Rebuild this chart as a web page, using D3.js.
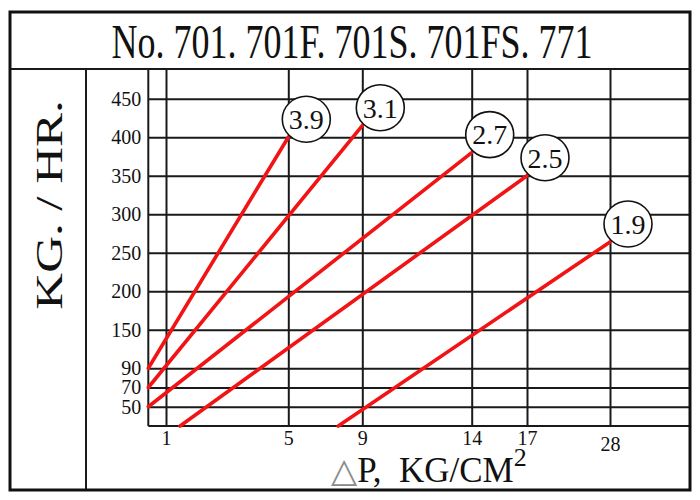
<!DOCTYPE html>
<html><head><meta charset="utf-8">
<script src="https://cdn.jsdelivr.net/npm/d3@7"></script>
<style>body{margin:0;background:#fff}svg{display:block}</style>
</head><body>
<svg id="c" width="700" height="500"></svg>
<script>
// ---- data ----
const title = "No. 701. 701F. 701S. 701FS. 771";
const yLabel = "KG. / HR.";
const yTicks = [50, 70, 90, 150, 200, 250, 300, 350, 400, 450];
const xTicks = [1, 5, 9, 14, 17, 28];
const seriesNames = ["3.9", "3.1", "2.7", "2.5", "1.9"];
const startX = [0, 0, 0, 1.46, 7.7];
const startY = [90, 70, 50, 30, 30];
const endX = [5, 9, 14, 17, 28];
const endY = [400, 415, 380, 350, 264];

// ---- layout ----
const svg = d3.select("#c");
const font = "'Liberation Serif','Times New Roman',serif";
const box = {x0: 10, y0: 12, x1: 690, y1: 490};
const titleLineY = 69, labelColX = 86;
const plot = {left: 148.3, right: 690, top: 69, bottom: 426};
const ink = "#1a1a1a";

// non-uniform (piecewise) scales as on the original chart
const yDomain = [30, 50, 70, 90, 150, 200, 250, 300, 350, 400, 450, 500];
const ySlots = [0, 1, 2, 3, 5, 7, 9, 11, 13, 15, 17, 19];
const y = d3.scaleLinear().domain(yDomain).range(ySlots.map(s => plot.bottom - s * 19.25));
const x = d3.scaleLinear().domain([0, 1, 5, 9, 14, 17, 28])
  .range([plot.left, 166, 288.3, 362.3, 471.7, 527, 610]);

// grid (horizontal)
const gy = svg.append("g").attr("transform", `translate(${plot.left},0)`)
  .call(d3.axisRight(y).tickValues(yTicks).tickSize(plot.right - plot.left).tickFormat(""));
gy.select(".domain").remove();
gy.selectAll("line").attr("stroke", ink).attr("stroke-width", 2);

// grid (vertical)
const gx = svg.append("g").attr("transform", `translate(0,${plot.bottom})`)
  .call(d3.axisTop(x).tickValues(xTicks).tickSize(plot.bottom - plot.top).tickFormat(""));
gx.select(".domain").remove();
gx.selectAll("line").attr("stroke", ink).attr("stroke-width", 2);

// plot frame: left edge and bottom axis line
svg.append("line").attr("x1", plot.left).attr("x2", plot.left).attr("y1", plot.top).attr("y2", plot.bottom)
  .attr("stroke", ink).attr("stroke-width", 2);
svg.append("line").attr("x1", plot.left).attr("x2", plot.right).attr("y1", plot.bottom).attr("y2", plot.bottom)
  .attr("stroke", ink).attr("stroke-width", 2);

// y tick labels
const ay = svg.append("g").attr("transform", `translate(${plot.left},0)`)
  .call(d3.axisLeft(y).tickValues(yTicks).tickSize(0).tickPadding(7));
ay.select(".domain").remove();
ay.selectAll("text").attr("font-family", font).attr("font-size", 20).attr("fill", "#111");

// x tick labels
const ax = svg.append("g").attr("transform", `translate(0,${plot.bottom})`)
  .call(d3.axisBottom(x).tickValues(xTicks).tickSize(0).tickPadding(5));
ax.select(".domain").remove();
ax.selectAll("text").attr("font-family", font).attr("font-size", 20).attr("fill", "#111")
  .attr("dy", d => d === 28 ? "1.0em" : "0.72em");

// outer frame, title band and label column
svg.append("line").attr("x1", box.x0).attr("x2", box.x1).attr("y1", titleLineY).attr("y2", titleLineY)
  .attr("stroke", ink).attr("stroke-width", 2);
svg.append("line").attr("x1", labelColX).attr("x2", labelColX).attr("y1", titleLineY).attr("y2", box.y1)
  .attr("stroke", ink).attr("stroke-width", 2);
svg.append("rect").attr("x", box.x0).attr("y", box.y0).attr("width", box.x1 - box.x0).attr("height", box.y1 - box.y0)
  .attr("fill", "none").attr("stroke", "#111").attr("stroke-width", 3);

// series lines
const lines = seriesNames.map((n, i) => ({name: n, x0: startX[i], y0: startY[i], x1: endX[i], y1: endY[i]}));
svg.append("g").selectAll("line").data(lines).join("line")
  .attr("x1", d => x(d.x0)).attr("y1", d => y(d.y0))
  .attr("x2", d => x(d.x1)).attr("y2", d => y(d.y1))
  .attr("stroke", "#f21414").attr("stroke-width", 3.6).attr("stroke-linecap", "round");

// circled labels at line ends
const lab = svg.append("g").selectAll("g").data(lines).join("g")
  .attr("transform", d => `translate(${x(d.x1) + 18},${y(d.y1) - 18})`);
lab.append("ellipse").attr("rx", 24).attr("ry", 23).attr("fill", "#fff").attr("stroke", "#111").attr("stroke-width", 1.6);
lab.append("text").text(d => d.name).attr("text-anchor", "middle").attr("dy", "0.35em")
  .attr("font-family", font).attr("font-size", 28).attr("fill", "#111");

// title (condensed serif)
svg.append("text").text(title).attr("transform", "translate(352,58) scale(0.75,1)")
  .attr("text-anchor", "middle")
  .attr("font-family", font).attr("font-size", 48).attr("fill", "#111");

// y label (wide serif)
svg.append("text").text(yLabel).attr("transform", "translate(61.5,205) rotate(-90) scale(1.34,1)")
  .attr("text-anchor", "middle").attr("font-family", font).attr("font-size", 38).attr("fill", "#111");

// x label
const xl = svg.append("text").attr("x", 331).attr("y", 481.5).attr("font-family", font).attr("font-size", 35).attr("fill", "#111");
xl.append("tspan").text("\u25B3").attr("font-family", "'DejaVu Sans',sans-serif").attr("font-size", 34).attr("fill", "#8a8a8a");
xl.append("tspan").text("P,\u00a0\u00a0KG/CM");
xl.append("tspan").text("2").attr("font-size", 26).attr("dy", -16);
</script>
</body></html>
